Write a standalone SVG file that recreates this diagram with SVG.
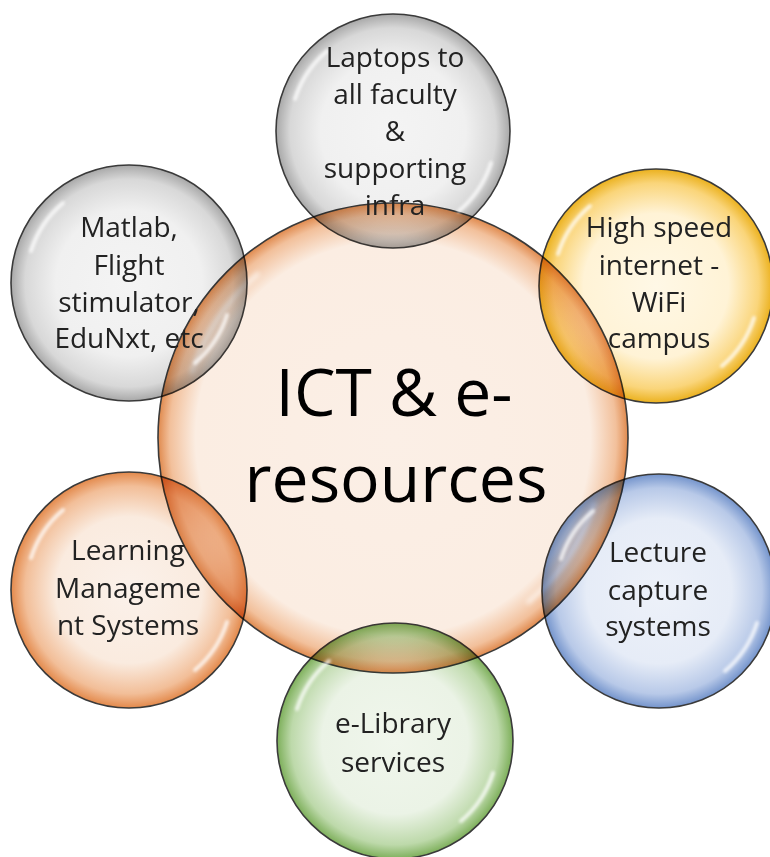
<svg xmlns="http://www.w3.org/2000/svg" xmlns:xlink="http://www.w3.org/1999/xlink" width="770" height="857" viewBox="0 0 770 857">
  <style>
    .bubble { stroke: #3a3a3a; stroke-width: 1.6; mix-blend-mode: multiply; }
    .hi { fill: none; stroke: #ffffff; stroke-width: 4; stroke-linecap: round; opacity: 0.75; vector-effect: non-scaling-stroke; }
    .lbl { font-family: "Open Sans", Lato, "Liberation Sans", sans-serif; font-size: 28px; fill: #222222; text-anchor: middle; }
    .big { font-family: "Open Sans", Lato, "Liberation Sans", sans-serif; font-size: 66px; fill: #000000; text-anchor: middle; }
  </style>
  <defs>
    <radialGradient id="gOrangeC" cx="0.5" cy="0.5" r="0.5">
      <stop offset="0" stop-color="#FBEFE6"/>
      <stop offset="0.84" stop-color="#FBEDE2"/>
      <stop offset="0.95" stop-color="#F2C09B"/>
      <stop offset="1" stop-color="#E08A4E"/>
    </radialGradient>
    <radialGradient id="gOrange" cx="0.5" cy="0.5" r="0.5">
      <stop offset="0" stop-color="#FBF1EA"/>
      <stop offset="0.62" stop-color="#FAEBDF"/>
      <stop offset="0.88" stop-color="#F2BE98"/>
      <stop offset="1" stop-color="#E3894B"/>
    </radialGradient>
    <radialGradient id="gGray" cx="0.5" cy="0.5" r="0.5">
      <stop offset="0" stop-color="#F4F4F4"/>
      <stop offset="0.62" stop-color="#F0F0F0"/>
      <stop offset="0.88" stop-color="#D8D8D8"/>
      <stop offset="1" stop-color="#A8A8A8"/>
    </radialGradient>
    <radialGradient id="gYellow" cx="0.5" cy="0.5" r="0.5">
      <stop offset="0" stop-color="#FFF8E6"/>
      <stop offset="0.62" stop-color="#FFF3D6"/>
      <stop offset="0.88" stop-color="#FAD57A"/>
      <stop offset="1" stop-color="#EBB11E"/>
    </radialGradient>
    <radialGradient id="gBlue" cx="0.5" cy="0.5" r="0.5">
      <stop offset="0" stop-color="#EDF1F9"/>
      <stop offset="0.62" stop-color="#E6ECF7"/>
      <stop offset="0.88" stop-color="#B8C9E8"/>
      <stop offset="1" stop-color="#7494CC"/>
    </radialGradient>
    <radialGradient id="gGreen" cx="0.5" cy="0.5" r="0.5">
      <stop offset="0" stop-color="#F0F6EC"/>
      <stop offset="0.62" stop-color="#EBF3E6"/>
      <stop offset="0.88" stop-color="#BDD9AA"/>
      <stop offset="1" stop-color="#7DAF5A"/>
    </radialGradient>
    <filter id="soft" x="-20%" y="-20%" width="140%" height="140%">
      <feGaussianBlur stdDeviation="1.4"/>
    </filter>
    <g id="shine" filter="url(#soft)">
      <path class="hi" d="M -98 -32 A 104 104 0 0 1 -66 -80"/>
      <path class="hi" d="M 98 32 A 104 104 0 0 1 66 80"/>
    </g>
  </defs>

  <rect x="0" y="0" width="770" height="857" fill="#ffffff"/>

  <g id="center">
    <circle class="bubble" cx="393" cy="438" r="235" fill="url(#gOrangeC)" style="mix-blend-mode: normal"/>
    <use xlink:href="#shine" transform="translate(393 438) scale(2.05)"/>
    <text class="big" x="394" y="416">ICT &amp; e-</text>
    <text class="big" x="396" y="502">resources</text>
  </g>

  <g id="laptops">
    <circle class="bubble" cx="393" cy="131" r="117" fill="url(#gGray)"/>
    <use xlink:href="#shine" transform="translate(393 131)"/>
    <text class="lbl" x="395" y="67">Laptops to</text>
    <text class="lbl" x="395" y="104">all faculty</text>
    <text class="lbl" x="395" y="141">&amp;</text>
    <text class="lbl" x="395" y="178">supporting</text>
    <text class="lbl" x="395" y="215">infra</text>
  </g>

  <g id="highspeed">
    <circle class="bubble" cx="656" cy="286" r="117" fill="url(#gYellow)"/>
    <use xlink:href="#shine" transform="translate(656 286)"/>
    <text class="lbl" x="659" y="237">High speed</text>
    <text class="lbl" x="659" y="275">internet  -</text>
    <text class="lbl" x="659" y="312">WiFi</text>
    <text class="lbl" x="659" y="348">campus</text>
  </g>

  <g id="lecture">
    <circle class="bubble" cx="659" cy="591" r="117" fill="url(#gBlue)"/>
    <use xlink:href="#shine" transform="translate(659 591)"/>
    <text class="lbl" x="658" y="562">Lecture</text>
    <text class="lbl" x="658" y="600">capture</text>
    <text class="lbl" x="658" y="636">systems</text>
  </g>

  <g id="elibrary">
    <circle class="bubble" cx="395" cy="741" r="118" fill="url(#gGreen)"/>
    <use xlink:href="#shine" transform="translate(395 741)"/>
    <text class="lbl" x="393" y="733">e-Library</text>
    <text class="lbl" x="393" y="772">services</text>
  </g>

  <g id="lms">
    <circle class="bubble" cx="129" cy="590" r="118" fill="url(#gOrange)"/>
    <use xlink:href="#shine" transform="translate(129 590)"/>
    <text class="lbl" x="128" y="560">Learning</text>
    <text class="lbl" x="128" y="598">Manageme</text>
    <text class="lbl" x="128" y="635">nt Systems</text>
  </g>

  <g id="matlab">
    <circle class="bubble" cx="129" cy="283" r="118" fill="url(#gGray)"/>
    <use xlink:href="#shine" transform="translate(129 283)"/>
    <text class="lbl" x="129" y="237">Matlab,</text>
    <text class="lbl" x="129" y="275">Flight</text>
    <text class="lbl" x="129" y="312">stimulator,</text>
    <text class="lbl" x="129" y="348">EduNxt,  etc</text>
  </g>

  <g id="connectors"></g>
</svg>
